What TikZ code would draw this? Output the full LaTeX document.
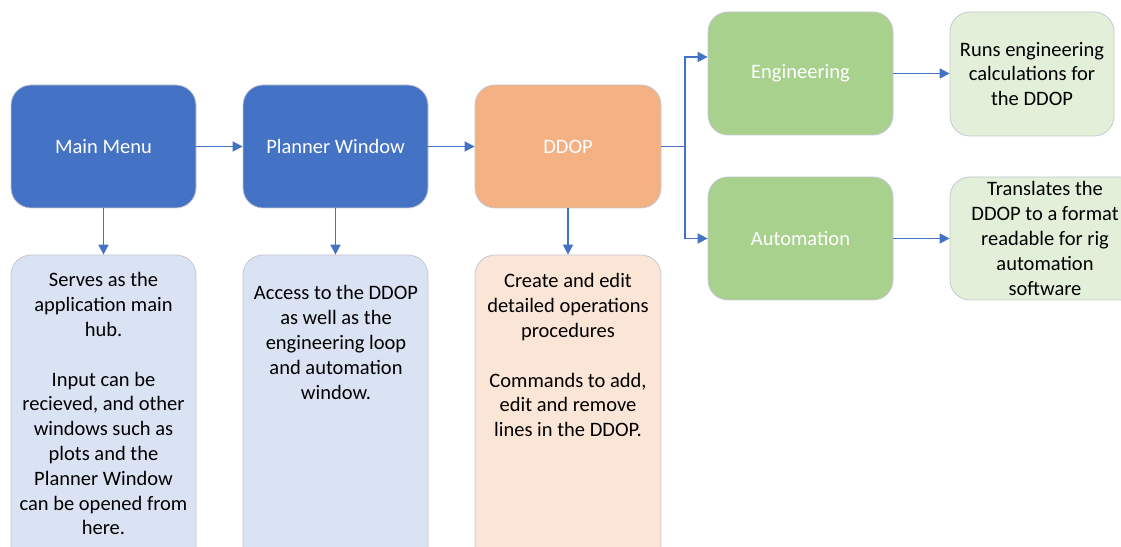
\documentclass[tikz,border=0pt]{standalone}
\usepackage{fontspec}
\setmainfont{Carlito}
\usetikzlibrary{arrows.meta}
\definecolor{hubblue}{HTML}{4472C4}
\definecolor{hubblueL}{HTML}{DAE3F3}
\definecolor{ddoporange}{HTML}{F4B183}
\definecolor{ddoporangeL}{HTML}{FBE5D6}
\definecolor{toolgreen}{HTML}{A9D18E}
\definecolor{toolgreenL}{HTML}{E2F0D9}
\definecolor{edge}{HTML}{C4C8D0}
\tikzset{
  box/.style={draw=edge, line width=0.8pt, rounded corners=20pt, inner sep=0pt,
    minimum width=185pt, minimum height=123pt, align=center,
    font=\fontsize{20.5}{24.8}\selectfont},
  mainbox/.style={box, fill=#1, text=white},
  notebox/.style={box, fill=#1, text=black},
  notetext/.style={anchor=north, align=center, inner sep=0pt, text=black,
    font=\fontsize{20.5}{24.8}\selectfont},
  arr/.style={draw=hubblue, line width=1.7pt,
    -{Triangle[length=10pt,width=10pt]}},
  wire/.style={draw=hubblue, line width=1.7pt}
}
\begin{document}
\begin{tikzpicture}[x=1pt,y=1pt]
\useasboundingbox (0,0) rectangle (1121,546);
\clip (0,0) rectangle (1121,546);

% top row
\node[mainbox=hubblue] (main) at (103.5,399.5) {Main Menu};
\node[mainbox=hubblue] (planner) at (335.5,399.5) {Planner Window};
\node[mainbox=ddoporange, minimum width=186pt] (ddop) at (568,399.5) {DDOP};
\node[mainbox=toolgreen] (eng) at (800.5,472.5) {Engineering};
\node[mainbox=toolgreen] (auto) at (800.5,307.5) {Automation};
\node[notebox=toolgreenL, minimum width=164pt, minimum height=124pt] (runs) at (1032,472) {Runs engineering\\calculations for\\the DDOP};
\node[notebox=toolgreenL, minimum width=190pt] (trans) at (1045,307.5) {Translates the\\DDOP to a format\\readable for rig\\automation\\software};

% description panels (run past the lower edge)
\node[notebox=hubblueL, minimum height=320pt] (mainlow) at (103.5,131) {};
\node[notebox=hubblueL, minimum height=320pt] (plannerlow) at (335.5,131) {};
\node[notebox=ddoporangeL, minimum width=186pt, minimum height=320pt] (ddoplow) at (568,131) {};

\node[notetext] (maintxt) at (103.5,273.5) {Serves as the\\application main\\hub.\\[24.8pt]Input can be\\recieved, and other\\windows such as\\plots and the\\Planner Window\\can be opened from\\here.};
\node[notetext] (plannertxt) at (336,260.5) {Access to the DDOP\\as well as the\\engineering loop\\and automation\\window.};
\node[notetext] (ddoptxt) at (568,272.5) {Create and edit\\detailed operations\\procedures\\[24.8pt]Commands to add,\\edit and remove\\lines in the DDOP.};

% connectors
\coordinate (split) at (685,399.5);
\draw[arr] (main) -- (planner);
\draw[arr] (planner) -- (ddop);
\draw[wire] (ddop.east) -- (split);
\draw[arr] (split) |- ([yshift=16.5pt]eng.west);
\draw[arr] (split) |- (auto.west);
\draw[arr] (eng) -- (eng.east -| runs.west);
\draw[arr] (auto) -- (trans);
\draw[arr] (main) -- (mainlow);
\draw[arr] (planner) -- (plannerlow);
\draw[arr] (ddop) -- (ddoplow);
\end{tikzpicture}
\end{document}
